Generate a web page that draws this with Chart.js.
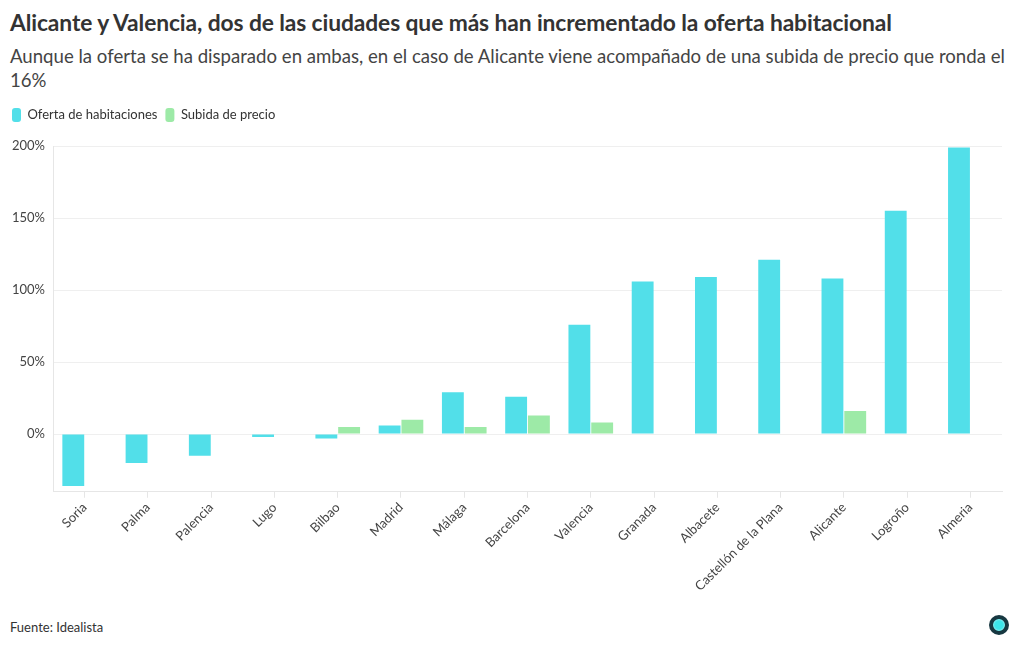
<!DOCTYPE html>
<html>
<head>
<meta charset="utf-8">
<script src="https://cdn.jsdelivr.net/npm/chart.js@4"></script>
<style>
  body { margin: 0; background: #fff; font-family: Lato, "Noto Sans", sans-serif; color: #333; }
  #wrap { position: relative; width: 1020px; height: 650px; }
  h1 { position: absolute; left: 10px; top: 8px; margin: 0; font-size: 22.8px; font-weight: 700; color: #333; letter-spacing: -0.1px; }
  .sub { position: absolute; left: 10px; top: 44px; width: 1005px; margin: 0; font-size: 18.6px; line-height: 24px; color: #444; }
  #box { position: absolute; left: 0; top: 100px; width: 1010px; height: 496px; }
  .src { position: absolute; left: 10px; top: 619px; font-size: 13px; color: #333; }
  .logo { position: absolute; left: 989px; top: 615px; width: 12px; height: 12px; border-radius: 50%; border: 4px solid #173841; background: #3ce6ea; box-shadow: inset 0 0 2px #fff; }
</style>
</head>
<body>
<div id="wrap">
  <h1>Alicante y Valencia, dos de las ciudades que más han incrementado la oferta habitacional</h1>
  <p class="sub">Aunque la oferta se ha disparado en ambas, en el caso de Alicante viene acompañado de una subida de precio que ronda el 16%</p>
  <div id="box"><canvas id="c"></canvas></div>
  <div class="src">Fuente: Idealista</div>
  <div class="logo"></div>
</div>
<script>
// datos
const ciudades = ["Soria", "Palma", "Palencia", "Lugo", "Bilbao", "Madrid", "Málaga", "Barcelona", "Valencia", "Granada", "Albacete", "Castellón de la Plana", "Alicante", "Logroño", "Almeria"];
const ofertaHabitaciones = [-36, -20, -15, -2, -3, 6, 29, 26, 76, 106, 109, 121, 108, 155, 199];
const subidaPrecio = [null, null, null, null, 5, 10, 5, 13, 8, null, null, null, 16, null, null];
const yTicks = [0, 50, 100, 150, 200];

Chart.defaults.font.family = 'Lato, "Noto Sans", sans-serif';
Chart.defaults.font.size = 13;
Chart.defaults.color = '#444';

// a bit more room under the legend
const legendGap = {
  id: 'legendGap',
  beforeInit(chart) {
    const fit = chart.legend.fit;
    chart.legend.fit = function () {
      fit.bind(chart.legend)();
      this.height += 14;
    };
  }
};

new Chart(document.getElementById('c'), {
  type: 'bar',
  data: {
    labels: ciudades,
    datasets: [{
      label: 'Oferta de habitaciones',
      data: ofertaHabitaciones,
      backgroundColor: '#52dfe9',
      barPercentage: 0.96,
      categoryPercentage: 0.72
    }, {
      label: 'Subida de precio',
      data: subidaPrecio,
      backgroundColor: '#9deaa7',
      barPercentage: 0.96,
      categoryPercentage: 0.72
    }]
  },
  options: {
    responsive: true,
    maintainAspectRatio: false,
    animation: false,
    layout: { padding: { left: 4, right: 8, top: 0, bottom: 0 } },
    plugins: {
      tooltip: { enabled: false },
      legend: {
        align: 'start',
        labels: {
          boxWidth: 9,
          boxHeight: 14,
          useBorderRadius: true,
          borderRadius: 3,
          padding: 8,
          color: '#333',
          font: { size: 13 }
        }
      }
    },
    scales: {
      x: {
        grid: { drawOnChartArea: false, drawTicks: true, tickLength: 6, offset: false, color: '#e6e6e6' },
        border: { color: '#e6e6e6' },
        ticks: { maxRotation: 45, minRotation: 45, color: '#444', padding: 2 }
      },
      y: {
        min: -40,
        max: 200,
        afterBuildTicks: function (axis) {
          axis.ticks = yTicks.map(v => ({ value: v }));
        },
        grid: { color: '#efefef', drawTicks: false },
        border: { color: '#e6e6e6' },
        ticks: {
          padding: 8,
          color: '#444',
          callback: v => v + '%'
        }
      }
    }
  },
  plugins: [legendGap]
});
</script>
</body>
</html>
